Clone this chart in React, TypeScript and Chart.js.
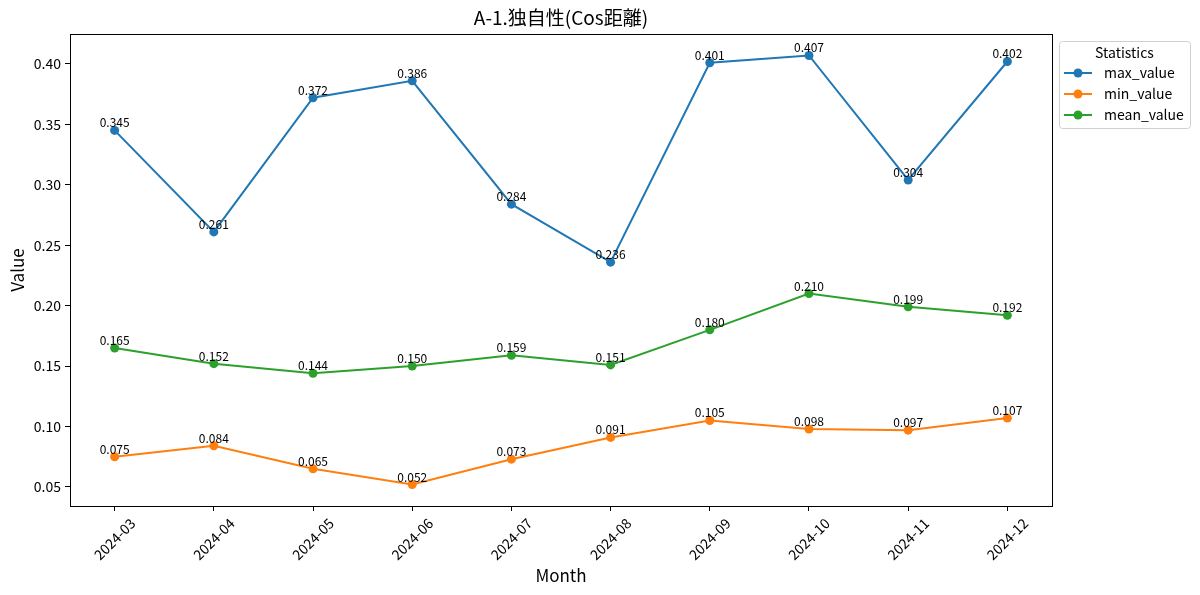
import React, { useRef, useEffect } from "react";
import Chart from "chart.js/auto";

const months = [
  "2024-03", "2024-04", "2024-05", "2024-06", "2024-07",
  "2024-08", "2024-09", "2024-10", "2024-11", "2024-12",
];
const maxValue = [0.345, 0.261, 0.372, 0.386, 0.284, 0.236, 0.401, 0.407, 0.304, 0.402];
const minValue = [0.075, 0.084, 0.065, 0.052, 0.073, 0.091, 0.105, 0.098, 0.097, 0.107];
const meanValue = [0.165, 0.152, 0.144, 0.15, 0.159, 0.151, 0.18, 0.21, 0.199, 0.192];
const yTicks = [0.05, 0.1, 0.15, 0.2, 0.25, 0.3, 0.35, 0.4];

const FONT = "'Noto Sans CJK JP', 'Noto Sans', sans-serif";

const series = [
  { label: "max_value", data: maxValue, color: "#1f77b4" },
  { label: "min_value", data: minValue, color: "#ff7f0e" },
  { label: "mean_value", data: meanValue, color: "#2ca02c" },
];

const allValues = [...maxValue, ...minValue, ...meanValue];
const lo = Math.min(...allValues);
const hi = Math.max(...allValues);
const pad = (hi - lo) * 0.05;

const decorations = {
  id: "decorations",
  afterDatasetsDraw(chart: any) {
    const { ctx, chartArea } = chart;
    const { left, right, top, bottom } = chartArea;
    ctx.save();
    // frame
    ctx.strokeStyle = "#000";
    ctx.lineWidth = 1;
    ctx.strokeRect(left + 0.5, top + 0.5, right - left, bottom - top);

    // value labels
    ctx.fillStyle = "#000";
    ctx.font = `12px ${FONT}`;
    ctx.textAlign = "center";
    ctx.textBaseline = "alphabetic";
    chart.data.datasets.forEach((ds: any, i: number) => {
      const meta = chart.getDatasetMeta(i);
      meta.data.forEach((pt: any, j: number) => {
        ctx.fillText(ds.data[j].y.toFixed(3), pt.x, pt.y - 3);
      });
    });

    // x tick labels, rotated around their centre
    const xs = chart.scales.x;
    ctx.font = `14px ${FONT}`;
    ctx.textBaseline = "middle";
    months.forEach((m, i) => {
      ctx.save();
      ctx.translate(xs.getPixelForValue(i), bottom + 33);
      ctx.rotate(-Math.PI / 4);
      ctx.fillText(m, 0, 0);
      ctx.restore();
    });

    // title
    ctx.font = `19px ${FONT}`;
    ctx.fillText("A-1.独自性(Cos距離)", (left + right) / 2, 18);

    // axis titles
    ctx.font = `17px ${FONT}`;
    ctx.fillText("Month", (left + right) / 2, 576);
    ctx.save();
    ctx.translate(18, (top + bottom) / 2);
    ctx.rotate(-Math.PI / 2);
    ctx.fillText("Value", 0, 0);
    ctx.restore();

    // legend
    const lx = 1059, ly = 41, lw = 131, lh = 87;
    ctx.fillStyle = "rgba(255,255,255,0.8)";
    ctx.strokeStyle = "#d0d0d0";
    ctx.lineWidth = 1;
    ctx.beginPath();
    ctx.roundRect(lx + 0.5, ly + 0.5, lw, lh, 3);
    ctx.fill();
    ctx.stroke();
    ctx.fillStyle = "#000";
    ctx.font = `14px ${FONT}`;
    ctx.textAlign = "center";
    ctx.fillText("Statistics", lx + lw / 2, 53);
    ctx.textAlign = "left";
    series.forEach((s, i) => {
      const y = 73 + i * 21;
      ctx.strokeStyle = s.color;
      ctx.lineWidth = 2;
      ctx.beginPath();
      ctx.moveTo(1064, y);
      ctx.lineTo(1092, y);
      ctx.stroke();
      ctx.fillStyle = s.color;
      ctx.beginPath();
      ctx.arc(1078, y, 4.5, 0, Math.PI * 2);
      ctx.fill();
      ctx.fillStyle = "#000";
      ctx.fillText(s.label, 1104, y);
    });
    ctx.restore();
  },
};

const App = () => {
  const chartRef = useRef<HTMLCanvasElement | null>(null);
  const chartInstanceRef = useRef<Chart | null>(null);

  useEffect(() => {
    document.body.style.margin = "0";
    const ctx = chartRef.current?.getContext("2d");
    if (chartInstanceRef.current) {
      chartInstanceRef.current.destroy();
    }
    if (ctx) {
      chartInstanceRef.current = new Chart(ctx, {
        type: "line",
        data: {
          datasets: series.map((s) => ({
            label: s.label,
            data: s.data.map((v, i) => ({ x: i, y: v })),
            borderColor: s.color,
            backgroundColor: s.color,
            borderWidth: 2,
            pointRadius: 4.5,
            pointHoverRadius: 4.5,
            pointBorderWidth: 0,
            tension: 0,
          })),
        },
        plugins: [decorations],
        options: {
          animation: false,
          responsive: false,
          layout: { padding: { top: 34, right: 148, left: 0, bottom: 0 } },
          plugins: {
            legend: { display: false },
            title: { display: false },
            tooltip: { enabled: false },
          },
          scales: {
            x: {
              type: "linear",
              min: -0.45,
              max: months.length - 1 + 0.45,
              afterBuildTicks: (scale: any) => {
                scale.ticks = months.map((_, i) => ({ value: i }));
              },
              afterFit: (scale: any) => {
                scale.height = 89;
              },
              grid: {
                drawOnChartArea: false,
                drawTicks: true,
                tickLength: 5,
                color: "#000",
              },
              border: { display: true, color: "#000" },
              ticks: {
                autoSkip: false,
                maxRotation: 0,
                callback: () => "",
              },
            },
            y: {
              min: lo - pad,
              max: hi + pad,
              afterBuildTicks: (scale: any) => {
                scale.ticks = yTicks.map((v) => ({ value: v }));
              },
              afterFit: (scale: any) => {
                scale.width = 70;
              },
              grid: {
                drawOnChartArea: false,
                drawTicks: true,
                tickLength: 5,
                color: "#000",
              },
              border: { display: true, color: "#000" },
              ticks: {
                color: "#000",
                font: { family: FONT, size: 14 },
                padding: 4,
                callback: (v: any) => Number(v).toFixed(2),
              },
            },
          },
        },
      });
    }
    return () => {
      if (chartInstanceRef.current) {
        chartInstanceRef.current.destroy();
      }
    };
  }, []);

  return (
    <div style={{ width: 1200, height: 595, background: "#fff" }}>
      <canvas ref={chartRef} width={1200} height={595}></canvas>
    </div>
  );
};

export default App;
